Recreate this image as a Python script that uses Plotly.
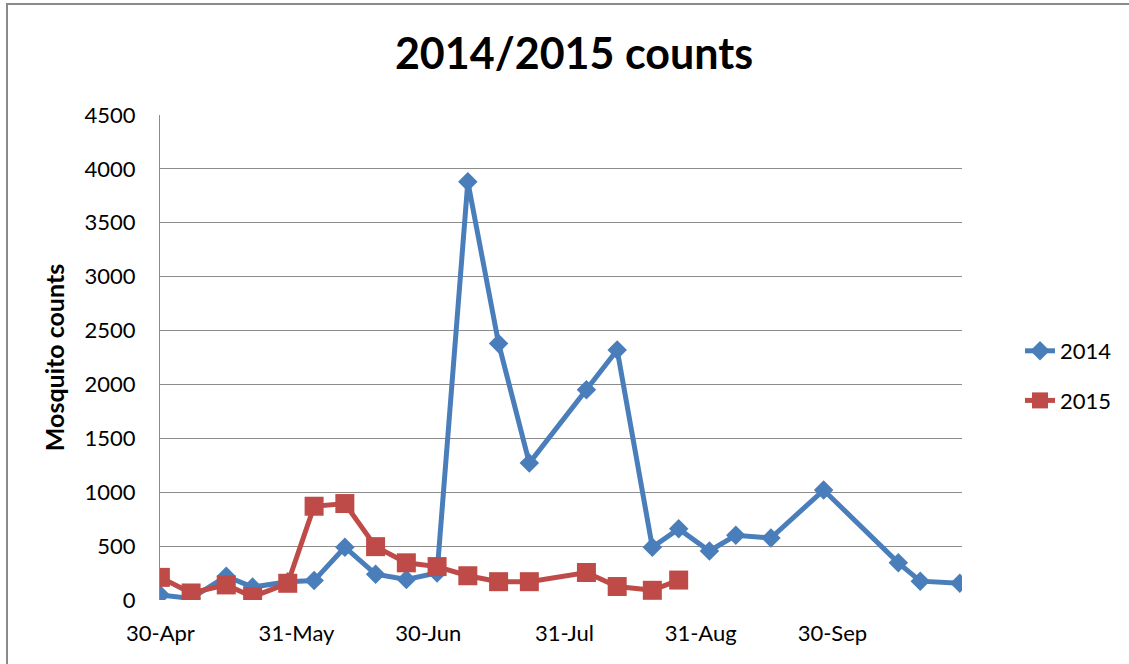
import plotly.graph_objects as go
import datetime as dt

# ---- data ----
start_date = "2014-04-30"
day_offsets = [0, 7, 15, 21, 29, 35, 42, 49, 56, 63, 70, 77, 84, 97, 104, 112, 118,
               125, 131, 139, 151, 168, 173, 182]
counts_2014 = [46, 15, 220, 120, 170, 180, 490, 240, 190, 250, 3880, 2380, 1270, 1950,
               2320, 490, 660, 455, 600, 575, 1020, 345, 175, 155]
counts_2015 = [210, 65, 140, 30, 155, 870, 895, 495, 345, 310, 225, 170, 170, 255,
               125, 90, 185]
tick_dates = ["2014-04-30", "2014-05-31", "2014-06-30", "2014-07-31", "2014-08-31", "2014-09-30"]
tick_labels = ["30-Apr", "31-May", "30-Jun", "31-Jul", "31-Aug", "30-Sep"]
y_ticks = list(range(0, 4501, 500))

base = dt.datetime.strptime(start_date, "%Y-%m-%d")
dates = [(base + dt.timedelta(days=d)).strftime("%Y-%m-%d") for d in day_offsets]

BLUE = "#4A7EBB"
RED = "#BE4B48"
GRID = "#8C8C8C"
FONT = "Lato"

fig = go.Figure()
fig.add_trace(go.Scatter(
    x=dates, y=counts_2014, name="2014", mode="lines+markers",
    line=dict(color=BLUE, width=5),
    marker=dict(symbol="diamond", size=15, color=BLUE),
    legendgroup="a"))
fig.add_trace(go.Scatter(
    x=dates[:len(counts_2015)], y=counts_2015, name="2015", mode="lines+markers",
    line=dict(color=RED, width=5),
    marker=dict(symbol="square", size=19, color=RED),
    legendgroup="b"))

W, H = 1129, 664
ml, mr, mt, mb = 160, 167, 115, 64
pw = W - ml - mr
ph = H - mt - mb

def px(xp):
    return (xp - ml) / pw

def py(yp):
    return (H - mb - yp) / ph

fig.update_layout(
    width=W, height=H,
    margin=dict(l=ml, r=mr, t=mt, b=mb, autoexpand=False),
    paper_bgcolor="white", plot_bgcolor="white",
    font=dict(family=FONT, size=22, color="black"),
    title=dict(text="<b>2014/2015 counts</b>", xref="container", x=574 / W,
               xanchor="center", y=1 - 54 / H, yanchor="middle",
               font=dict(family=FONT, size=43, color="black")),
    showlegend=True,
    legend=dict(x=px(1020), xanchor="left", y=py(376), yanchor="middle",
                font=dict(family=FONT, size=22, color="black"),
                tracegroupgap=18, bgcolor="rgba(0,0,0,0)"),
    xaxis=dict(
        type="date",
        range=["2014-04-29 22:00", "2014-10-29 12:00"],
        tickvals=tick_dates, ticktext=tick_labels,
        showgrid=False, zeroline=False,
        showline=False, ticks="",
        ticklabelstandoff=18,
        tickfont=dict(family=FONT, size=22, color="black"),
    ),
    yaxis=dict(
        range=[0, 4500], tickvals=y_ticks,
        showgrid=True, gridcolor=GRID, gridwidth=1.3,
        zeroline=False,
        showline=True, linecolor=GRID, linewidth=1.3,
        ticks="", ticklabelstandoff=19,
        tickfont=dict(family=FONT, size=22, color="black"),
        title=dict(text="<b>Mosquito counts</b>", standoff=12,
                   font=dict(family=FONT, size=25, color="black")),
    ),
    shapes=[dict(type="rect", xref="paper", yref="paper",
                 x0=px(7), x1=px(1140), y0=py(4), y1=py(680),
                 line=dict(color="#8A8A8A", width=2), layer="below")],
)

fig.write_html("out.html", config={"displayModeBar": False},
               post_script="document.body.style.margin='0';")
